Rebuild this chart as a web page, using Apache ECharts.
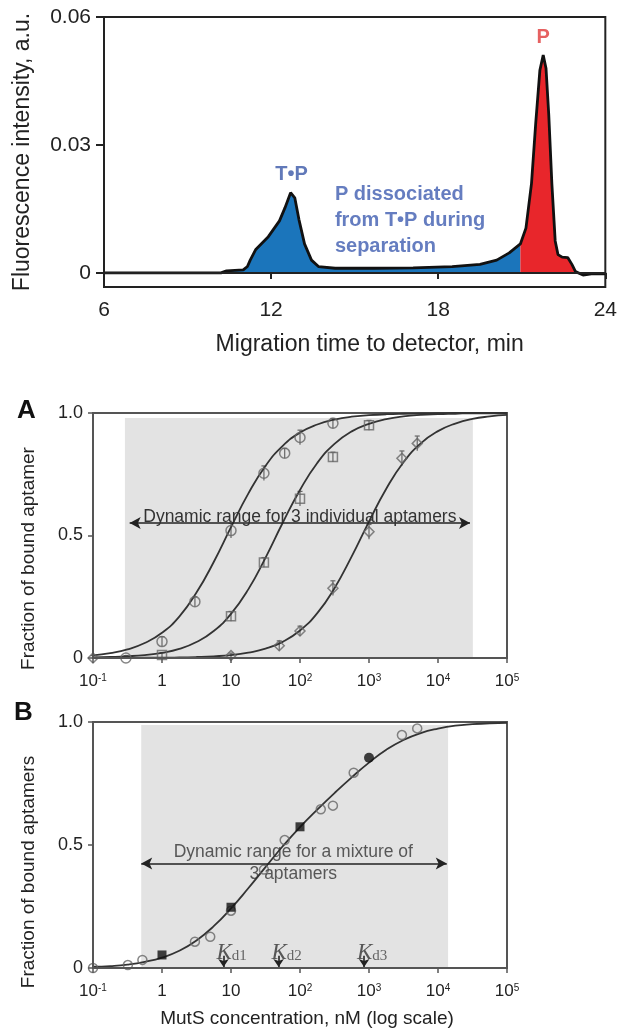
<!DOCTYPE html>
<html>
<head>
<meta charset="utf-8">
<script src="https://cdn.jsdelivr.net/npm/echarts@6/dist/echarts.min.js"></script>
<style>
  html, body { margin: 0; padding: 0; background: #fff; }
  #chart { width: 620px; height: 1030px; }
</style>
</head>
<body>
<div id="chart"></div>
<script>
// ---- top: electropherogram ----
const traceTime = [6, 10.2, 10.4, 11.0, 11.15, 11.25, 11.45, 11.9, 12.3, 12.5, 12.7, 12.85, 13.0, 13.2, 13.45, 13.7, 14.3, 15.7, 17.1, 18.5,
  19.5, 20.1, 20.55, 20.95, 21.15, 21.35, 21.5, 21.65, 21.77, 21.87, 21.97, 22.08, 22.2, 22.3, 22.45, 22.65, 22.8, 22.93, 23.2, 23.5, 24];
const traceValue = [0, 0, 0.0005, 0.0007, 0.0015, 0.003, 0.0055, 0.0085, 0.0122, 0.0153, 0.0188, 0.0176, 0.0125, 0.0068, 0.003, 0.0015, 0.0011, 0.0011, 0.0012, 0.0015,
  0.002, 0.003, 0.0047, 0.0068, 0.0105, 0.021, 0.035, 0.0475, 0.0511, 0.048, 0.037, 0.021, 0.0075, 0.0043, 0.0037, 0.0036, 0.002, 0.0003, -0.0005, -0.0002, -0.0002];
const splitTime = 20.95;          // blue (T•P + dissociated P) | red (free P)
const topTicks = [0, 0.03, 0.06];

// ---- panels A / B: binding curves ----
const fitConc = [0.1, 0.178, 0.316, 0.562, 1, 1.78, 3.16, 5.62, 10, 17.8, 31.6, 56.2, 100, 178, 316, 562,
  1000, 1780, 3160, 5620, 10000, 17800, 31600, 56200, 100000];
const fitA1 = [0.011, 0.020, 0.035, 0.061, 0.103, 0.169, 0.267, 0.392, 0.534, 0.671, 0.784, 0.866, 0.920, 0.953, 0.973, 0.985,
  0.991, 0.995, 0.997, 0.998, 0.999, 1, 1, 1, 1];
const fitA2 = [0.002, 0.004, 0.007, 0.012, 0.021, 0.037, 0.065, 0.110, 0.180, 0.280, 0.409, 0.552, 0.686, 0.796, 0.874, 0.925,
  0.956, 0.975, 0.986, 0.992, 0.995, 0.997, 0.999, 0.999, 1];
const fitA3 = [0, 0, 0, 0.001, 0.001, 0.002, 0.004, 0.007, 0.012, 0.022, 0.038, 0.066, 0.112, 0.183, 0.285, 0.415,
  0.557, 0.691, 0.799, 0.876, 0.926, 0.957, 0.976, 0.986, 0.992];
const fitB = [0.005, 0.008, 0.014, 0.025, 0.042, 0.070, 0.112, 0.170, 0.242, 0.324, 0.410, 0.495, 0.573, 0.644, 0.711, 0.775,
  0.835, 0.887, 0.927, 0.955, 0.973, 0.985, 0.991, 0.995, 0.997];

const concA1 = [0.3, 1, 3, 10, 30, 60, 100, 300];
const fracA1 = [0.0, 0.067, 0.23, 0.52, 0.754, 0.836, 0.90, 0.958];
const errA1 = [0.01, 0.02, 0.02, 0.03, 0.03, 0.02, 0.03, 0.02];
const concA2 = [1, 10, 30, 100, 300, 1000];
const fracA2 = [0.012, 0.17, 0.39, 0.65, 0.82, 0.95];
const errA2 = [0.01, 0.02, 0.02, 0.03, 0.02, 0.02];
const concA3 = [0.1, 10, 50, 100, 300, 1000, 3000, 5000];
const fracA3 = [0.0, 0.01, 0.05, 0.11, 0.285, 0.515, 0.815, 0.876];
const errA3 = [0.01, 0.01, 0.02, 0.02, 0.03, 0.03, 0.03, 0.03];

const concBOpen = [0.1, 0.32, 0.52, 3, 5, 10, 30, 60, 200, 300, 600, 3000, 5000];
const fracBOpen = [0, 0.012, 0.033, 0.107, 0.127, 0.233, 0.40, 0.52, 0.645, 0.66, 0.794, 0.947, 0.974];
const concBSquare = [1, 10, 100];
const fracBSquare = [0.053, 0.247, 0.574];
const concBDot = [1000];
const fracBDot = [0.855];
const kdConc = [7.8, 49, 850];
const kdIndex = ['1', '2', '3'];

const shadeA = [0.29, 32000, 0.98];
const arrowA = [0.34, 29100, 0.551];
const shadeB = [0.5, 14000, 0.988];
const arrowB = [0.5, 13400, 0.425];
const textB = [80, 0.425];

const FONT = 'Liberation Sans, Arial, sans-serif';
const zip = (xs, ys) => xs.map((x, i) => [x, ys[i]]);
const zip3 = (xs, ys, es) => xs.map((x, i) => [x, ys[i], es[i]]);
const tracePts = zip(traceTime, traceValue);

function logLabel(v) {
  const e = Math.round(Math.log10(v));
  if (e === 0) return '1';
  if (e === 1) return '10';
  return '10{s|' + e + '}';
}

function logXAxis(grid, withName) {
  const ax = {
    type: 'log', logBase: 10, gridIndex: grid, min: 0.1, max: 100000, z: 5,
    axisLine: { lineStyle: { color: '#555', width: 2 } },
    axisTick: { show: true, inside: false, length: 5, lineStyle: { color: '#555', width: 1.5 } },
    minorTick: { show: false }, splitLine: { show: false },
    axisLabel: {
      formatter: logLabel, fontFamily: FONT, fontSize: 17, color: '#222', margin: 15,
      rich: { s: { fontSize: 10, verticalAlign: 'top', fontFamily: FONT, color: '#222' } }
    }
  };
  if (withName) {
    ax.name = 'MutS concentration, nM (log scale)';
    ax.nameLocation = 'middle';
    ax.nameGap = 41;
    ax.nameTextStyle = { fontFamily: FONT, fontSize: 19, color: '#222', padding: [0, 0, 0, 14] };
  }
  return ax;
}

function fracYAxis(grid, name, shift) {
  return {
    type: 'value', gridIndex: grid, min: 0, max: 1, interval: 0.5, z: 5,
    name: name, nameLocation: 'middle', nameGap: 55,
    nameTextStyle: { fontFamily: FONT, fontSize: 19, color: '#222', padding: [0, shift, 0, 0] },
    axisLine: { show: true, lineStyle: { color: '#555', width: 2 } },
    axisTick: { show: true, length: 5, lineStyle: { color: '#555', width: 1.5 } },
    splitLine: { show: false },
    axisLabel: {
      fontFamily: FONT, fontSize: 18, color: '#222', margin: 10,
      formatter: v => (v === 0 ? '0' : v.toFixed(1))
    }
  };
}

function fitSeries(grid, values) {
  return {
    type: 'line', xAxisIndex: grid, yAxisIndex: grid, z: 3,
    data: zip(fitConc, values), smooth: true, showSymbol: false, silent: true,
    lineStyle: { color: '#333', width: 1.8 }
  };
}

function errSeries(grid, pts) {
  return {
    type: 'custom', xAxisIndex: grid, yAxisIndex: grid, z: 3, silent: true,
    data: pts, encode: { x: 0, y: 1 },
    renderItem: (params, api) => {
      const x = api.value(0), y = api.value(1), e = api.value(2);
      const a = api.coord([x, y + e]), b = api.coord([x, Math.max(0, y - e)]);
      const st = { stroke: '#666', lineWidth: 1.2 };
      return {
        type: 'group', children: [
          { type: 'line', shape: { x1: a[0], y1: a[1], x2: b[0], y2: b[1] }, style: st },
          { type: 'line', shape: { x1: a[0] - 2.5, y1: a[1], x2: a[0] + 2.5, y2: a[1] }, style: st }
        ]
      };
    }
  };
}

function pointSeries(grid, pts, symbol, size) {
  return {
    type: 'scatter', xAxisIndex: grid, yAxisIndex: grid, z: 4, silent: true,
    data: pts, symbol: symbol, symbolSize: size,
    itemStyle: { color: 'rgba(0,0,0,0)', borderColor: '#666', borderWidth: 1.5 }
  };
}

function rangeSeries(grid, shade, arrow, text) {
  return {
    type: 'line', xAxisIndex: grid, yAxisIndex: grid, data: [], silent: true,
    markArea: {
      silent: true, z: 1,
      itemStyle: { color: '#e3e3e3' },
      data: [[{ coord: [shade[0], 0] }, { coord: [shade[1], shade[2]] }]]
    },
    markLine: {
      silent: true, z: 5, symbol: ['arrow', 'arrow'], symbolSize: [9, 11],
      lineStyle: { color: '#222', width: 1.5, type: 'solid' },
      label: {
        show: !!text, position: 'insideMiddleTop', distance: -3,
        formatter: text || '', fontFamily: FONT, fontSize: 17.5, color: '#333'
      },
      data: [[{ coord: [arrow[0], arrow[2]] }, { coord: [arrow[1], arrow[2]] }]]
    }
  };
}

const chart = echarts.init(document.getElementById('chart'), null, { renderer: 'canvas' });

const option = {
  animation: false,
  backgroundColor: '#fff',
  grid: [
    { left: 104, top: 17, width: 502, height: 270, show: true, borderColor: '#222', borderWidth: 2, backgroundColor: 'transparent' },
    { left: 93, top: 413, width: 414, height: 245, show: true, borderColor: '#555', borderWidth: 2, backgroundColor: 'transparent' },
    { left: 93, top: 722, width: 414, height: 246, show: true, borderColor: '#555', borderWidth: 2, backgroundColor: 'transparent' }
  ],
  graphic: [
    { type: 'text', left: 17, top: 398, style: { text: 'A', font: 'bold 26px Liberation Sans', fill: '#111' } },
    { type: 'text', left: 14, top: 700, style: { text: 'B', font: 'bold 26px Liberation Sans', fill: '#111' } }
  ],
  xAxis: [
    {
      type: 'value', gridIndex: 0, min: 6, max: 24, interval: 6, z: 5,
      name: 'Migration time to detector, min', nameLocation: 'middle', nameGap: 46,
      nameTextStyle: { fontFamily: FONT, fontSize: 23, color: '#222', padding: [0, 0, 0, 30] },
      axisLine: { lineStyle: { color: '#222', width: 2 } },
      axisTick: { length: 6, lineStyle: { color: '#222', width: 2 } },
      splitLine: { show: false },
      axisLabel: { fontFamily: FONT, fontSize: 21, color: '#222', margin: 13 }
    },
    logXAxis(1, false),
    logXAxis(2, true)
  ],
  yAxis: [
    {
      type: 'value', gridIndex: 0, min: -0.0033, max: 0.06, z: 5,
      name: 'Fluorescence intensity, a.u.', nameLocation: 'middle', nameGap: 70,
      nameTextStyle: { fontFamily: FONT, fontSize: 23, color: '#222' },
      axisLine: { show: true, lineStyle: { color: '#222', width: 2 } },
      axisTick: { show: true, length: 8, customValues: topTicks, lineStyle: { color: '#222', width: 2 } },
      splitLine: { show: false },
      axisLabel: {
        customValues: topTicks, fontFamily: FONT, fontSize: 21, color: '#222', margin: 13,
        formatter: v => (v === 0 ? '0' : v.toFixed(2))
      }
    },
    fracYAxis(1, 'Fraction of bound aptamer', 46),
    fracYAxis(2, 'Fraction of bound aptamers', 54)
  ],
  series: [
    // top chart
    {
      type: 'line', xAxisIndex: 0, yAxisIndex: 0, z: 2, silent: true, showSymbol: false,
      data: tracePts.filter(p => p[0] <= splitTime),
      lineStyle: { width: 0 }, areaStyle: { color: '#1b75bb', opacity: 1 }
    },
    {
      type: 'line', xAxisIndex: 0, yAxisIndex: 0, z: 2, silent: true, showSymbol: false,
      data: tracePts.filter(p => p[0] >= splitTime),
      lineStyle: { width: 0 }, areaStyle: { color: '#e8262b', opacity: 1 }
    },
    {
      type: 'line', xAxisIndex: 0, yAxisIndex: 0, z: 3, silent: true, showSymbol: false,
      data: tracePts, lineStyle: { color: '#111', width: 2.8 },
      markLine: {
        silent: true, symbol: 'none', label: { show: false },
        lineStyle: { color: '#111', width: 1.6, type: 'solid' },
        data: [{ yAxis: 0 }]
      }
    },
    {
      type: 'scatter', xAxisIndex: 0, yAxisIndex: 0, symbolSize: 0, silent: true, z: 6,
      label: { show: true, position: 'inside', fontFamily: FONT, fontWeight: 'bold' },
      data: [
        { value: [12.73, 0.0231], label: { formatter: 'T•P', fontSize: 20, color: '#3a58a8' } },
        { value: [21.77, 0.0551], label: { formatter: 'P', fontSize: 20, color: '#e03a3a' } },
        {
          value: [14.29, 0.0215],
          label: {
            formatter: 'P dissociated\nfrom T•P during\nseparation', fontSize: 20, lineHeight: 26,
            color: '#3f5cb0', align: 'left', verticalAlign: 'top'
          }
        }
      ]
    },

    // panel A
    rangeSeries(1, shadeA, arrowA, 'Dynamic range for 3 individual aptamers'),
    fitSeries(1, fitA1), fitSeries(1, fitA2), fitSeries(1, fitA3),
    errSeries(1, zip3(concA1, fracA1, errA1)),
    errSeries(1, zip3(concA2, fracA2, errA2)),
    errSeries(1, zip3(concA3, fracA3, errA3)),
    pointSeries(1, zip(concA1, fracA1), 'circle', 10),
    pointSeries(1, zip(concA2, fracA2), 'rect', 9),
    pointSeries(1, zip(concA3, fracA3), 'diamond', 10),

    // panel B
    rangeSeries(2, shadeB, arrowB, null),
    {
      type: 'scatter', xAxisIndex: 2, yAxisIndex: 2, symbolSize: 0, silent: true, z: 6,
      data: [textB],
      label: {
        show: true, position: 'inside', formatter: 'Dynamic range for a mixture of\n3 aptamers',
        fontFamily: FONT, fontSize: 17.5, lineHeight: 22, color: '#333'
      }
    },
    Object.assign(fitSeries(2, fitB), {
      markLine: {
        silent: true, z: 5, symbol: ['none', 'arrow'], symbolSize: [8, 8],
        lineStyle: { color: '#222', width: 1.6, type: 'solid' }, label: { show: false },
        data: kdConc.map(k => [{ coord: [k, 0.05] }, { coord: [k, 0.004] }])
      }
    }),
    pointSeries(2, zip(concBOpen, fracBOpen), 'circle', 9),
    {
      type: 'scatter', xAxisIndex: 2, yAxisIndex: 2, z: 5, silent: true,
      data: zip(concBSquare, fracBSquare), symbol: 'rect', symbolSize: 9,
      itemStyle: { color: '#111' }
    },
    {
      type: 'scatter', xAxisIndex: 2, yAxisIndex: 2, z: 5, silent: true,
      data: zip(concBDot, fracBDot), symbol: 'circle', symbolSize: 10,
      itemStyle: { color: '#111' }
    },
    {
      type: 'scatter', xAxisIndex: 2, yAxisIndex: 2, z: 6, silent: true, symbolSize: 0,
      data: kdConc.map((k, i) => ({ value: [k, 0], name: kdIndex[i] })),
      label: {
        show: true, position: 'top', distance: 4, offset: [8, 0],
        formatter: p => '{k|K}{d|d' + p.name + '}',
        rich: {
          k: { fontFamily: 'Liberation Serif', fontStyle: 'italic', fontSize: 23, color: '#333', lineHeight: 22 },
          d: { fontFamily: 'Liberation Serif', fontSize: 15, color: '#444', verticalAlign: 'bottom', lineHeight: 14 }
        }
      }
    }
  ]
};

chart.setOption(option);
</script>
</body>
</html>
